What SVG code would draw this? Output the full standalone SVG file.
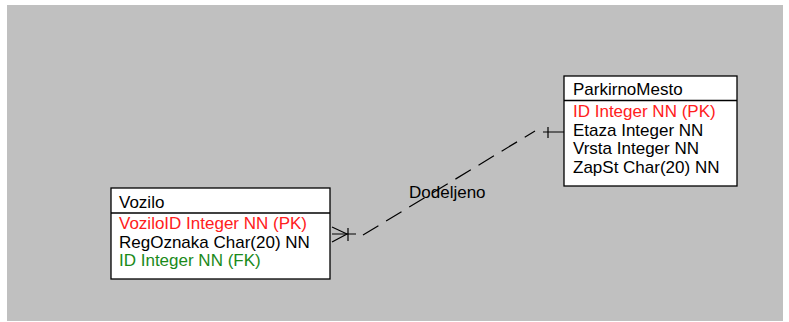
<svg xmlns="http://www.w3.org/2000/svg" width="789" height="322" viewBox="0 0 789 322">
<style>
text{font-family:"Liberation Sans",Arial,sans-serif;font-size:17px;fill:#000}
.box{fill:#fff;stroke:#000;stroke-width:1.3}
.sep{stroke:#000;stroke-width:1.3}
.pk{fill:#ff2020}
.fk{fill:#1a8a1a}
.ln{stroke:#000;stroke-width:1.2;fill:none}
</style>
<rect x="0" y="0" width="789" height="322" fill="#fff"/>
<rect x="7" y="5" width="776" height="316" fill="#c0c0c0"/>
<g id="connectors">
<path class="ln" d="M363,235 L535,131" stroke-dasharray="18,9"/>
<path class="ln" d="M332,227 L347,234 L332,242"/>
<path class="ln" d="M332,234 L356,234 M348,228 L348,241"/>
<path class="ln" d="M543,132 L564,132 M548,127 L548,138"/>
<text x="409" y="198">Dodeljeno</text>
</g>
<g id="Vozilo">
<rect class="box" x="111" y="188" width="219" height="91"/>
<line class="sep" x1="111" y1="213" x2="330" y2="213"/>
<text x="119" y="207.5">Vozilo</text>
<text class="pk" x="119" y="229">VoziloID Integer NN (PK)</text>
<text x="119" y="247.7">RegOznaka Char(20) NN</text>
<text class="fk" x="119" y="266.3">ID Integer NN (FK)</text>
</g>
<g id="ParkirnoMesto">
<rect class="box" x="564" y="76" width="173" height="110"/>
<line class="sep" x1="564" y1="100.5" x2="737" y2="100.5"/>
<text x="573" y="95.3">ParkirnoMesto</text>
<text class="pk" x="573" y="117">ID Integer NN (PK)</text>
<text x="573" y="135.7">Etaza Integer NN</text>
<text x="573" y="154.3">Vrsta Integer NN</text>
<text x="573" y="173">ZapSt Char(20) NN</text>
</g>
</svg>
